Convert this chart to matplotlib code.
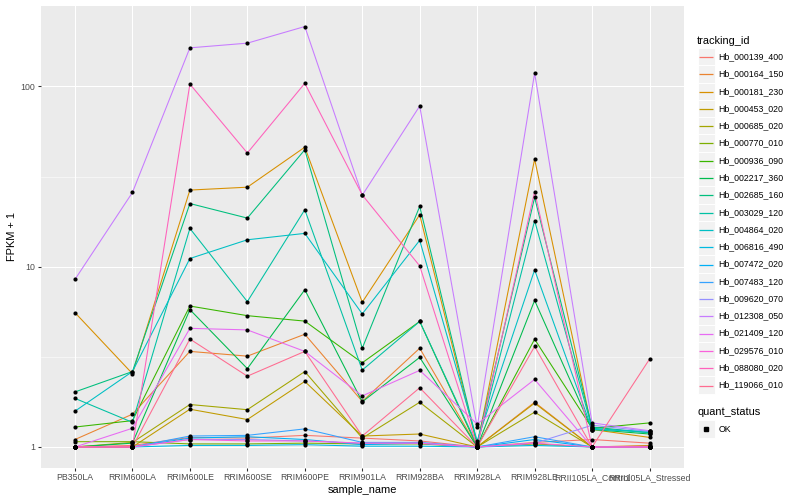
import matplotlib
matplotlib.use("Agg")
import matplotlib.pyplot as plt
from matplotlib.lines import Line2D
from matplotlib.patches import Rectangle
import numpy as np

plt.rcParams["font.family"] = ["Liberation Sans", "DejaVu Sans"]

categories = ["PB350LA", "RRIM600LA", "RRIM600LE", "RRIM600SE", "RRIM600PE",
              "RRIM901LA", "RRIM928BA", "RRIM928LA", "RRIM928LE",
              "RRII105LA_Control", "RRII105LA_Stressed"]

series_names = ["Hb_000139_400", "Hb_000164_150", "Hb_000181_230", "Hb_000453_020",
                "Hb_000685_020", "Hb_000770_010", "Hb_000936_090", "Hb_002217_360",
                "Hb_002685_160", "Hb_003029_120", "Hb_004864_020", "Hb_006816_490",
                "Hb_007472_020", "Hb_007483_120", "Hb_009620_070", "Hb_012308_050",
                "Hb_021409_120", "Hb_029576_010", "Hb_088080_020", "Hb_119066_010"]

hb_000139_400 = [1.00, 1.02, 1.13, 1.12, 1.16, 1.12, 1.08, 1.00, 1.06, 1.10, 1.05]
hb_000164_150 = [1.10, 1.52, 3.39, 3.19, 4.22, 1.79, 3.53, 1.00, 1.77, 1.00, 1.02]
hb_000181_230 = [5.56, 2.55, 26.6, 27.6, 46.0, 6.35, 19.4, 1.02, 39.5, 1.25, 1.13]
hb_000453_020 = [1.00, 1.00, 1.62, 1.42, 2.31, 1.15, 1.18, 1.00, 1.75, 1.00, 1.00]
hb_000685_020 = [1.00, 1.06, 1.72, 1.61, 2.62, 1.12, 1.77, 1.00, 1.56, 1.00, 1.00]
hb_000770_010 = [1.07, 1.07, 1.04, 1.04, 1.05, 1.04, 1.04, 1.00, 1.04, 1.00, 1.01]
hb_000936_090 = [1.29, 1.40, 6.05, 5.35, 4.99, 2.93, 4.97, 1.00, 3.96, 1.27, 1.36]
hb_002217_360 = [1.00, 1.05, 5.78, 2.72, 7.45, 1.78, 3.14, 1.00, 6.50, 1.25, 1.18]
hb_002685_160 = [2.02, 2.62, 22.4, 18.6, 44.5, 3.53, 21.6, 1.05, 24.2, 1.29, 1.20]
hb_003029_120 = [1.86, 1.37, 16.3, 6.40, 20.7, 2.67, 4.97, 1.02, 18.0, 1.27, 1.20]
hb_004864_020 = [1.58, 2.62, 11.1, 14.1, 15.3, 5.47, 14.0, 1.08, 9.60, 1.25, 1.22]
hb_006816_490 = [1.00, 1.00, 1.02, 1.02, 1.03, 1.01, 1.01, 1.00, 1.02, 1.00, 1.00]
hb_007472_020 = [1.00, 1.00, 1.12, 1.14, 1.10, 1.03, 1.05, 1.00, 1.10, 1.00, 1.00]
hb_007483_120 = [1.00, 1.00, 1.15, 1.16, 1.26, 1.06, 1.06, 1.00, 1.14, 1.00, 1.00]
hb_009620_070 = [1.00, 1.00, 1.10, 1.10, 1.08, 1.05, 1.05, 1.00, 1.05, 1.32, 1.22]
hb_012308_050 = [8.50, 25.8, 163.6, 173.7, 214.8, 24.9, 77.8, 1.29, 118.5, 1.36, 1.23]
hb_021409_120 = [1.00, 1.27, 4.55, 4.46, 3.39, 1.92, 2.66, 1.34, 2.37, 1.00, 1.00]
hb_029576_010 = [1.00, 1.00, 1.10, 1.08, 1.08, 1.05, 1.05, 1.00, 1.05, 1.00, 1.00]
hb_088080_020 = [1.00, 1.00, 103.0, 42.7, 104.0, 25.0, 10.1, 1.00, 26.1, 1.00, 1.00]
hb_119066_010 = [1.00, 1.00, 3.97, 2.47, 3.39, 1.15, 2.13, 1.00, 3.61, 1.00, 3.07]

series_values = [hb_000139_400, hb_000164_150, hb_000181_230, hb_000453_020,
                 hb_000685_020, hb_000770_010, hb_000936_090, hb_002217_360,
                 hb_002685_160, hb_003029_120, hb_004864_020, hb_006816_490,
                 hb_007472_020, hb_007483_120, hb_009620_070, hb_012308_050,
                 hb_021409_120, hb_029576_010, hb_088080_020, hb_119066_010]

colors = ["#F8766D", "#EA8331", "#D89000", "#C09B00", "#A3A500", "#7CAE00", "#39B600",
          "#00BB4E", "#00BF7D", "#00C1A3", "#00BFC4", "#00BAE0", "#00B0F6", "#35A2FF",
          "#9590FF", "#C77CFF", "#E76BF3", "#FA62DB", "#FF62BC", "#FF6C91"]

status_label = "OK"

W, H = 800, 500
fig = plt.figure(figsize=(8, 5), dpi=100)
fig.patch.set_facecolor("white")


def fx(px):
    return px / W


def fy(py):
    return 1 - py / H


p_left, p_right, p_top, p_bottom = 40.5, 684, 5.5, 468
ax = fig.add_axes([fx(p_left), fy(p_bottom), (p_right - p_left) / W, (p_bottom - p_top) / H])
ax.set_facecolor("#EBEBEB")
for s in ax.spines.values():
    s.set_visible(False)

x = np.arange(len(categories))
for vals, col in zip(series_values, colors):
    ax.plot(x, vals, color=col, lw=0.77, zorder=3, solid_capstyle="butt")
for vals in series_values:
    ax.plot(x, vals, linestyle="none", marker="o", markersize=3.0, color="black",
            markeredgewidth=0, zorder=4)

ax.set_yscale("log")
allv = np.concatenate([np.asarray(v, float) for v in series_values])
lo, hi = np.log10(allv.min()), np.log10(allv.max())
span = hi - lo
ax.set_ylim(10 ** (lo - 0.05 * span), 10 ** (hi + 0.05 * span))
ax.set_xlim(-0.6, len(categories) - 1 + 0.6)

ax.set_yticks([1, 10, 100])
ax.set_yticklabels(["1", "10", "100"])
ax.yaxis.set_minor_locator(matplotlib.ticker.FixedLocator([10 ** 0.5, 10 ** 1.5]))
ax.yaxis.set_minor_formatter(matplotlib.ticker.NullFormatter())
ax.set_xticks(x)
ax.set_xticklabels(categories)

ax.grid(True, which="major", color="white", lw=0.77, zorder=1)
ax.grid(True, which="minor", axis="y", color="white", lw=0.38, zorder=1)
ax.set_axisbelow(True)
ax.tick_params(axis="both", which="major", length=2.0, width=0.77, color="#333333",
               labelcolor="#4D4D4D", labelsize=6.34, pad=1.6)
ax.tick_params(axis="y", which="minor", length=0)

ax.set_xlabel("sample_name", fontsize=7.92, color="black", labelpad=2.5)
ax.set_ylabel("FPKM + 1", fontsize=7.92, color="black", labelpad=2.5)

# legend: tracking_id
key_x0, key_w = 697.5, 17.28
fig.text(fx(697), fy(40.7), "tracking_id", fontsize=7.92, va="center", ha="left")
first_y, step = 56.7, 17.28
for i, (name, col) in enumerate(zip(series_names, colors)):
    yc = first_y + i * step
    yl = np.floor(yc) + 0.5
    fig.add_artist(Rectangle((fx(key_x0), fy(yc + key_w / 2)), key_w / W, key_w / H,
                             transform=fig.transFigure, facecolor="#F2F2F2",
                             edgecolor="white", lw=0.7, zorder=1))
    fig.add_artist(Line2D([fx(key_x0 + 1.7), fx(key_x0 + key_w - 1.7)], [fy(yl), fy(yl)],
                          transform=fig.transFigure, color=col, lw=0.9, zorder=5,
                          solid_capstyle="butt"))
    fig.text(fx(718.5), fy(yc), name, fontsize=6.34, va="center", ha="left")

# legend: quant_status
fig.text(fx(697), fy(412), "quant_status", fontsize=7.92, va="center", ha="left")
yc = 429
fig.add_artist(Rectangle((fx(key_x0), fy(yc + key_w / 2)), key_w / W, key_w / H,
                         transform=fig.transFigure, facecolor="#F2F2F2",
                         edgecolor="white", lw=0.7, zorder=1))
fig.add_artist(Line2D([fx(key_x0 + key_w / 2)], [fy(yc)], transform=fig.transFigure,
                      marker="s", markersize=2.6, color="black", linestyle="none", zorder=5))
fig.text(fx(718.5), fy(yc), status_label, fontsize=6.34, va="center", ha="left")

fig.savefig("out.png", dpi=100)
